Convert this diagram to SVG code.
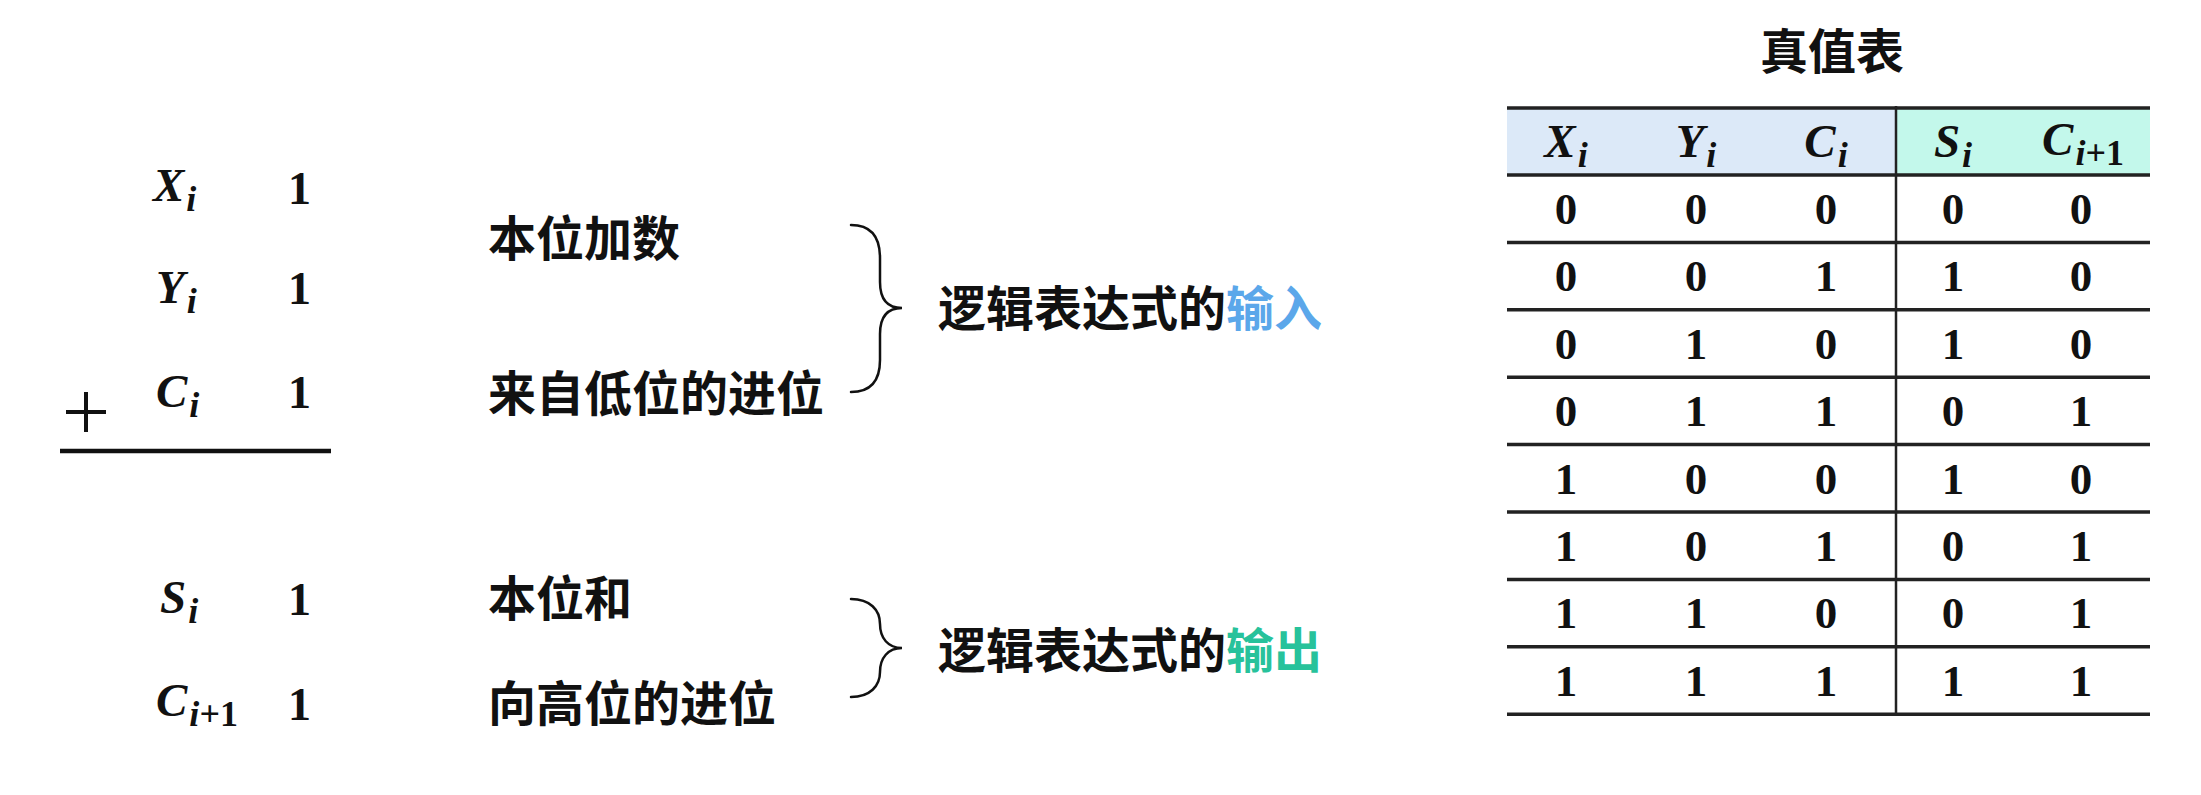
<svg xmlns="http://www.w3.org/2000/svg" width="2201" height="795" viewBox="0 0 2201 795">
<style>
.cn{font-family:"Noto Sans CJK SC","Noto Sans",sans-serif;font-weight:700;font-size:48px;fill:#111}
.var{font-family:"Liberation Serif","DejaVu Serif",serif;font-style:italic;font-weight:700;font-size:47px;fill:#111}
.sub{font-size:36px}
.up{font-style:normal}
.num{font-family:"Liberation Serif","DejaVu Serif",serif;font-weight:700;font-size:46px;fill:#111}
.tn{font-family:"Liberation Serif","DejaVu Serif",serif;font-weight:700;font-size:45px;fill:#111;text-anchor:middle}
.hline{stroke:#222;stroke-width:3.5}
.brace{fill:none;stroke:#111;stroke-width:2.5;stroke-linecap:round}
</style>
<rect width="2201" height="795" fill="#ffffff"/>

<g id="addition">
  <text class="var" x="153" y="201">X<tspan class="sub" dx="2" dy="10">i</tspan></text>
  <text class="num" x="288" y="204">1</text>
  <text class="var" x="156" y="303">Y<tspan class="sub" dx="2" dy="10">i</tspan></text>
  <text class="num" x="288" y="304">1</text>
  <text class="var" x="156" y="407">C<tspan class="sub" dx="2" dy="10">i</tspan></text>
  <text class="num" x="288" y="408">1</text>
  <path d="M66 412 H106 M86 392 V432" stroke="#111" stroke-width="4" fill="none"/>
  <line x1="60" y1="451" x2="331" y2="451" stroke="#111" stroke-width="4.5"/>
  <text class="var" x="160" y="613">S<tspan class="sub" dx="2" dy="10">i</tspan></text>
  <text class="num" x="288" y="615">1</text>
  <text class="var" x="156" y="716">C<tspan class="sub" dx="2" dy="10">i<tspan class="up">+1</tspan></tspan></text>
  <text class="num" x="288" y="720">1</text>
</g>

<g id="labels-in">
  <text class="cn" x="488" y="256">本位加数</text>
  <text class="cn" x="488" y="411">来自低位的进位</text>
</g>
<g id="labels-out">
  <text class="cn" x="488" y="616">本位和</text>
  <text class="cn" x="488" y="721">向高位的进位</text>
</g>

<g id="connectors">
  <path class="brace" d="M851 225 C872 225 880 238 880 258 L880 282 C880 300 888 308 902 308 C888 308 880 316 880 334 L880 360 C880 380 872 392 851 392"/>
  <path class="brace" d="M851 599 C870 599 880 610 880 624 C880 638 888 648 902 648 C888 648 880 658 880 672 C880 686 870 697 851 697"/>
</g>

<g id="expr-in">
  <text class="cn" x="938" y="326">逻辑表达式的<tspan fill="#5ba7ea">输入</tspan></text>
</g>
<g id="expr-out">
  <text class="cn" x="938" y="668">逻辑表达式的<tspan fill="#27c29b">输出</tspan></text>
</g>

<g id="truth-table">
  <text class="cn" x="1832" y="69" text-anchor="middle" font-size="47">真值表</text>
  <rect x="1507" y="108" width="389" height="67" fill="#dce9f8"/>
  <rect x="1896" y="108" width="254" height="67" fill="#c3f8eb"/>
  <g class="hdr">
    <text class="var" x="1566" y="157" text-anchor="middle">X<tspan class="sub" dx="2" dy="10">i</tspan></text>
    <text class="var" x="1696" y="157" text-anchor="middle">Y<tspan class="sub" dx="2" dy="10">i</tspan></text>
    <text class="var" x="1826" y="157" text-anchor="middle">C<tspan class="sub" dx="2" dy="10">i</tspan></text>
    <text class="var" x="1953" y="157" text-anchor="middle">S<tspan class="sub" dx="2" dy="10">i</tspan></text>
    <text class="var" x="2083" y="155" text-anchor="middle">C<tspan class="sub" dx="2" dy="10">i<tspan class="up">+1</tspan></tspan></text>
  </g>
  <g id="lines">
    <line class="hline" x1="1507" y1="108" x2="2150" y2="108"/>
    <line class="hline" x1="1507" y1="175" x2="2150" y2="175"/>
    <line class="hline" x1="1507" y1="242.4" x2="2150" y2="242.4"/>
    <line class="hline" x1="1507" y1="309.8" x2="2150" y2="309.8"/>
    <line class="hline" x1="1507" y1="377.2" x2="2150" y2="377.2"/>
    <line class="hline" x1="1507" y1="444.6" x2="2150" y2="444.6"/>
    <line class="hline" x1="1507" y1="512" x2="2150" y2="512"/>
    <line class="hline" x1="1507" y1="579.4" x2="2150" y2="579.4"/>
    <line class="hline" x1="1507" y1="646.8" x2="2150" y2="646.8"/>
    <line class="hline" x1="1507" y1="714.2" x2="2150" y2="714.2"/>
    <line x1="1896" y1="106" x2="1896" y2="714" stroke="#222" stroke-width="2.5"/>
  </g>
  <g id="rows">
    <text class="tn" y="224"><tspan x="1566">0</tspan><tspan x="1696">0</tspan><tspan x="1826">0</tspan><tspan x="1953">0</tspan><tspan x="2081">0</tspan></text>
    <text class="tn" y="291.4"><tspan x="1566">0</tspan><tspan x="1696">0</tspan><tspan x="1826">1</tspan><tspan x="1953">1</tspan><tspan x="2081">0</tspan></text>
    <text class="tn" y="358.8"><tspan x="1566">0</tspan><tspan x="1696">1</tspan><tspan x="1826">0</tspan><tspan x="1953">1</tspan><tspan x="2081">0</tspan></text>
    <text class="tn" y="426.2"><tspan x="1566">0</tspan><tspan x="1696">1</tspan><tspan x="1826">1</tspan><tspan x="1953">0</tspan><tspan x="2081">1</tspan></text>
    <text class="tn" y="493.6"><tspan x="1566">1</tspan><tspan x="1696">0</tspan><tspan x="1826">0</tspan><tspan x="1953">1</tspan><tspan x="2081">0</tspan></text>
    <text class="tn" y="561"><tspan x="1566">1</tspan><tspan x="1696">0</tspan><tspan x="1826">1</tspan><tspan x="1953">0</tspan><tspan x="2081">1</tspan></text>
    <text class="tn" y="628.4"><tspan x="1566">1</tspan><tspan x="1696">1</tspan><tspan x="1826">0</tspan><tspan x="1953">0</tspan><tspan x="2081">1</tspan></text>
    <text class="tn" y="695.8"><tspan x="1566">1</tspan><tspan x="1696">1</tspan><tspan x="1826">1</tspan><tspan x="1953">1</tspan><tspan x="2081">1</tspan></text>
  </g>
</g>
</svg>
